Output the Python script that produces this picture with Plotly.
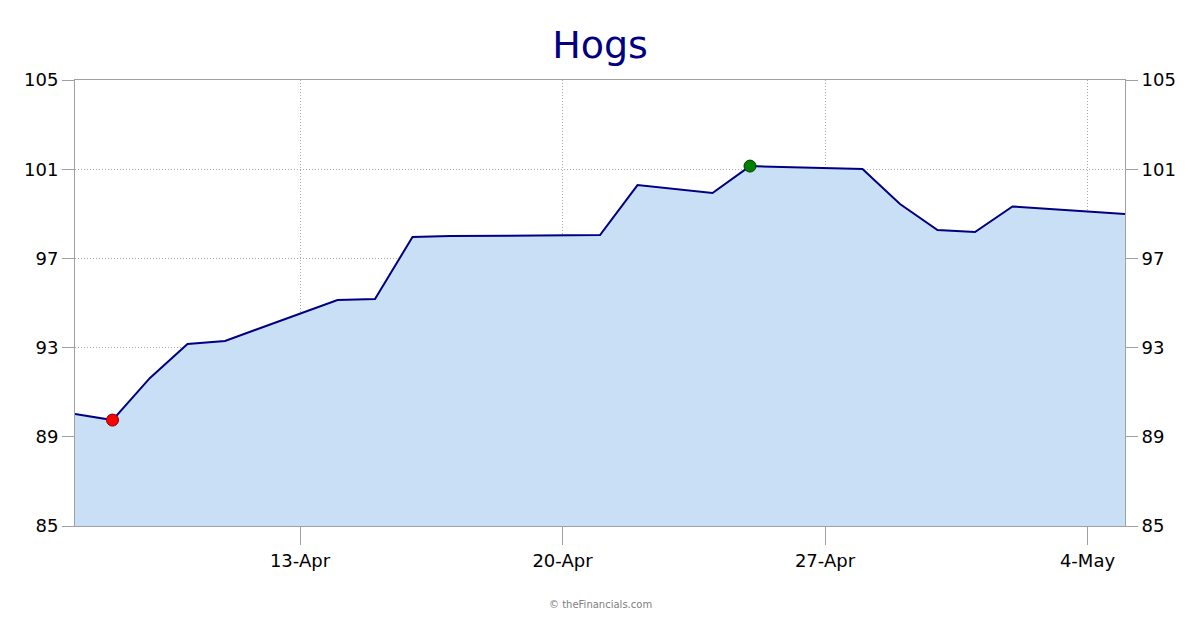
import plotly.graph_objects as go

dates = ["2025-04-07", "2025-04-08", "2025-04-09", "2025-04-10", "2025-04-11",
         "2025-04-14", "2025-04-15", "2025-04-16", "2025-04-17", "2025-04-21",
         "2025-04-22", "2025-04-23", "2025-04-24", "2025-04-25", "2025-04-28",
         "2025-04-29", "2025-04-30", "2025-05-01", "2025-05-02", "2025-05-05"]
prices = [90.02, 89.75, 91.64, 93.16, 93.30,
          95.13, 95.18, 97.96, 98.00, 98.05,
          100.29, 100.11, 99.93, 101.14, 101.01,
          99.44, 98.27, 98.18, 99.33, 98.99]
tick_dates = ["2025-04-13", "2025-04-20", "2025-04-27", "2025-05-04"]
tick_labels = ["13-Apr", "20-Apr", "27-Apr", "4-May"]
y_ticks = [85, 89, 93, 97, 101, 105]

imin = prices.index(min(prices))
imax = prices.index(max(prices))

FONT = "DejaVu Sans"

fig = go.Figure()
fig.add_trace(go.Scatter(x=dates, y=prices, mode="lines",
                         line=dict(color="#000080", width=2),
                         fill="tozeroy", fillcolor="#C9DFF6",
                         hoverinfo="x+y", showlegend=False))
fig.add_trace(go.Scatter(x=[dates[imin]], y=[prices[imin]], mode="markers",
                         marker=dict(color="#FF0000", size=12, line=dict(color="#800000", width=1)),
                         showlegend=False))
fig.add_trace(go.Scatter(x=[dates[imax]], y=[prices[imax]], mode="markers",
                         marker=dict(color="#008000", size=12, line=dict(color="#004000", width=1)),
                         showlegend=False))
fig.add_trace(go.Scatter(x=dates, y=prices, yaxis="y2", mode="lines",
                         line=dict(color="rgba(0,0,0,0)"), hoverinfo="skip", showlegend=False))

fig.update_layout(
    width=1200, height=630,
    paper_bgcolor="white", plot_bgcolor="white",
    margin=dict(l=75, r=75, t=80, b=104),
    title=dict(text="Hogs", x=0.5, xanchor="center", y=1 - 45 / 630, yanchor="middle",
               font=dict(family=FONT, size=38, color="#000080")),
    font=dict(family=FONT, color="black"),
    xaxis=dict(type="date", range=["2025-04-07", "2025-05-05"],
               tickmode="array", tickvals=tick_dates, ticktext=tick_labels,
               ticks="outside", ticklen=18, tickcolor="#A0A0A0",
               tickfont=dict(size=18, family=FONT, color="black"),
               showgrid=True, gridcolor="#A8A8A8", griddash="1px,2px", gridwidth=1,
               showline=True, linecolor="#A0A0A0", linewidth=1, mirror=True,
               zeroline=False),
    yaxis=dict(range=[85, 105], tickmode="array", tickvals=y_ticks,
               ticks="outside", ticklen=12, tickcolor="#A0A0A0",
               tickfont=dict(size=18, family=FONT, color="black"),
               showgrid=True, gridcolor="#A8A8A8", griddash="1px,2px", gridwidth=1,
               showline=True, linecolor="#A0A0A0", linewidth=1,
               zeroline=False),
    yaxis2=dict(range=[85, 105], overlaying="y", side="right", tickmode="array",
                tickvals=y_ticks, ticks="outside", ticklen=12, tickcolor="#A0A0A0",
                tickfont=dict(size=18, family=FONT, color="black"),
                showgrid=False, showline=True, linecolor="#A0A0A0", linewidth=1,
                zeroline=False),
    annotations=[dict(text="© theFinancials.com", x=0.5, y=-78 / 446.0,
                      xref="paper", yref="paper", yanchor="middle",
                      showarrow=False, font=dict(size=10, color="#808080", family=FONT))],
)

fig.write_html("out.html", config={"displayModeBar": False},
               post_script="document.body.style.margin='0';document.body.style.padding='0';")
